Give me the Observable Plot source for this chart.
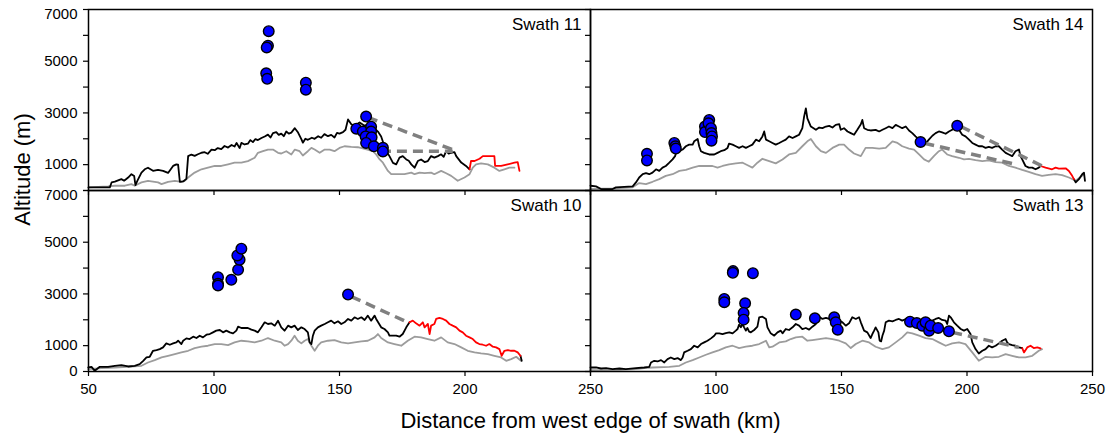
<!DOCTYPE html>
<html><head><meta charset="utf-8">
<script src="https://cdn.jsdelivr.net/npm/d3@7"></script>
<script src="https://cdn.jsdelivr.net/npm/@observablehq/plot@0.6"></script>
<style>body{margin:0;background:#fff}</style>
</head><body><div id="chart"></div>
<script>
// ---------- panels ----------
const panelNames = ["Swath 11", "Swath 14", "Swath 10", "Swath 13"];
const panelCols = ["L", "R", "L", "R"];
const panelRows = ["T", "T", "B", "B"];

// ---------- Swath 11 ----------
const swath11Max = [[50,120],[58.5,120],[59.2,310],[60.5,340],[63.1,440],[64.2,380],[65.8,500],[67.1,630],[68.2,560],[68.7,210],[69.5,380],[71.1,690],[72.4,820],[73.7,880],[75.7,760],[77.7,800],[79.7,760],[81.7,680],[83.7,950],[85.0,1010],[85.7,1000],[86.4,330],[87.7,350],[89.0,450],[89.7,1330],[91.0,1390],[92.3,1340],[93.6,1400],[95.0,1460],[96.3,1480],[97.5,1420],[99.0,1580],[100.3,1560],[101.5,1640],[102.9,1600],[104.2,1720],[105.6,1660],[107.0,1760],[108.2,1700],[109.0,1840],[110.2,1640],[110.9,1840],[112.2,1780],[113.5,1810],[114.5,1950],[115.5,1870],[116.5,1990],[117.5,1950],[118.9,2030],[120.2,2090],[121.5,2160],[122.5,2050],[123.5,2220],[124.8,2260],[125.8,2150],[126.8,2200],[127.8,2100],[128.8,2280],[129.8,2200],[130.8,2240],[132.2,2410],[133.5,2240],[134.8,1990],[135.4,1850],[136.4,2000],[137.4,1960],[139.0,2040],[140.1,2000],[141.5,2100],[142.7,2040],[144.0,2180],[145.4,2100],[146.7,2150],[148.0,2050],[149.0,2230],[150.0,2200],[151.4,2260],[152.4,2350],[153.4,2750],[154.7,2560],[156.0,2500],[158.0,2630],[160.0,2500],[161.3,2560],[162.6,2470],[164.0,2400],[165.3,2280],[166.6,2090],[167.9,1710],[168.8,1500],[169.9,1330],[171.3,1070],[172.6,1010],[173.9,1270],[175.2,1330],[176.6,1200],[177.6,1150],[178.6,1010],[179.9,880],[181.2,1140],[182.5,1200],[183.9,1100],[185.2,1140],[186.5,1330],[187.8,1270],[189.2,1330],[190.5,1400],[191.5,1300],[192.5,1520],[193.5,1430],[194.5,1460],[195.8,1480],[196.5,1330],[198.5,1080],[200.4,950],[201.8,820]];
const swath11East = [[201.8,820],[202.4,1140],[203.8,1140],[205.8,1230],[207.1,1330],[211.7,1330],[212.0,950],[214.4,950],[217.0,1010],[219.7,1075],[221.0,1100],[221.7,760]];
const swath11Mean = [[50,121],[57.8,159],[60.5,184],[64.5,184],[67.1,248],[68.4,184],[71.1,312],[73.7,375],[77.7,312],[79.1,248],[81.7,337],[84.4,375],[87.0,337],[88.3,375],[89.7,502],[92.3,693],[95.0,820],[97.6,884],[100.3,948],[102.9,948],[105.6,1011],[108.2,1075],[110.9,1075],[113.5,1138],[116.2,1266],[117.5,1456],[119.5,1520],[121.5,1584],[123.5,1584],[125.5,1456],[126.8,1431],[128.8,1520],[130.8,1393],[132.2,1584],[134.1,1520],[135.4,1355],[137.4,1520],[138.8,1647],[140.1,1584],[142.1,1456],[144.1,1584],[146.1,1584],[148.0,1520],[150.0,1647],[152.0,1711],[154.7,1685],[157.3,1673],[160.0,1609],[163.3,1520],[164.6,1393],[166.0,1202],[167.3,1075],[169.3,757],[170.6,630],[172.6,630],[175.9,630],[178.6,693],[179.9,630],[181.9,693],[183.9,668],[186.5,693],[187.8,630],[190.5,757],[192.5,668],[194.5,566],[197.1,375],[199.8,502],[201.8,630],[203.1,884],[204.4,1011],[206.4,1049],[209.1,1011],[211.7,884],[213.7,757],[215.7,820],[217.7,884],[219.7,884]];
const swath11Points = [[121.8,6160],[121.5,5600],[121.0,5530],[120.8,4530],[121.2,4320],[136.6,4170],[136.6,3900],[160.6,2860],[156.7,2390],[159.3,2280],[162.6,2470],[162.6,2280],[160.4,2090],[162.8,2060],[160.6,1840],[163.7,1710],[167.3,1650],[167.3,1510]];
const swath11Dash = [[161.3,2830,195.1,1580],[166.5,1520,195.1,1520]];

// ---------- Swath 14 ----------
const swath14Max = [[50,184],[52.2,159],[54.2,57],[58.8,57],[60.1,121],[66.8,159],[68.1,312],[69.4,502],[70.8,630],[72.1,668],[73.4,630],[74.7,693],[76.1,820],[77.4,757],[78.7,884],[80.0,948],[81.4,1075],[82.7,1202],[83.7,1329],[84.3,1520],[85.4,1520],[86.7,1584],[88.0,1711],[89.3,1775],[90.7,1775],[91.3,1902],[92.7,1991],[93.3,1711],[94.0,1520],[95.3,1456],[97.3,1393],[99.3,1393],[100.6,1456],[101.9,1520],[103.3,1558],[104.6,1647],[105.2,1813],[106.6,1775],[107.9,1711],[109.2,1647],[110.6,1711],[111.9,1647],[113.2,1711],[114.5,1775],[115.9,1966],[117.2,1902],[118.5,2093],[119.2,2283],[119.9,1966],[121.2,1902],[122.5,1838],[123.8,1775],[125.2,1838],[126.5,1902],[127.8,1966],[129.1,2093],[130.5,2029],[131.8,2093],[133.1,2156],[134.4,2410],[135.1,2856],[135.8,3173],[136.4,2792],[137.8,2474],[139.8,2347],[141.1,2436],[142.4,2410],[143.8,2474],[145.1,2500],[146.4,2436],[147.7,2538],[149.1,2563],[149.7,2347],[151.0,2410],[152.4,2283],[153.7,2220],[155.0,2156],[156.3,2347],[157.7,2563],[158.3,2728],[159.0,2410],[160.3,2347],[161.6,2321],[163.6,2347],[165.0,2283],[166.3,2347],[167.6,2410],[168.9,2474],[170.3,2410],[171.6,2538],[172.9,2474],[174.2,2410],[175.6,2474],[176.9,2321],[178.2,2220],[179.5,2093],[180.9,1966],[182.2,1838],[183.5,1813],[184.8,1966],[186.2,2118],[187.5,2220],[188.8,2283],[190.1,2245],[191.5,2194],[192.8,2283],[194.1,2347],[195.4,2474],[196.8,2347],[198.1,2156],[199.4,2093],[200.8,1966],[202.1,1838],[203.4,1775],[204.7,1711],[206.1,1711],[207.4,1647],[208.7,1685],[210.0,1647],[211.4,1711],[212.7,1711],[214.0,1584],[215.4,1456],[216.7,1393],[218.0,1329],[219.3,1520],[220.7,1584],[221.3,1329],[222.0,1202],[223.3,948],[224.6,884],[226.0,884],[227.3,820],[228.6,884],[229.3,948]];
const swath14East = [[229.3,948],[231.3,884],[233.9,820],[235.3,884],[236.6,846],[239.3,859],[240.6,757],[241.9,566],[242.6,439]];
const swath14Tail = [[242.6,439],[243.3,312],[244.6,439],[245.9,630],[246.6,693],[247.0,375]];
const swath14Mean = [[50,60],[60,80],[66.8,121],[69.4,286],[72.1,248],[74.7,337],[77.4,439],[80.0,566],[82.7,630],[85.4,757],[88.0,795],[90.7,884],[93.3,948],[96.0,948],[98.6,948],[100.6,884],[102.6,948],[105.2,1011],[107.9,1049],[110.6,1075],[113.2,948],[114.5,884],[116.5,1075],[118.5,1227],[121.2,1138],[123.8,1049],[126.5,1202],[129.1,1393],[131.8,1456],[134.4,1711],[136.4,1902],[137.8,1991],[139.8,1711],[141.8,1520],[143.8,1456],[146.4,1647],[149.1,1775],[151.0,1775],[153.0,1584],[155.0,1431],[157.7,1329],[159.6,1647],[162.3,1647],[165.0,1622],[167.6,1647],[170.3,1902],[172.3,1838],[174.2,1711],[176.9,1622],[178.9,1584],[180.9,1393],[182.9,1202],[184.8,1113],[186.8,1329],[188.8,1520],[190.1,1584],[192.1,1393],[194.1,1329],[196.8,1266],[198.8,1202],[200.8,1227],[203.4,1176],[206.1,1138],[208.7,1164],[211.4,1100],[214.0,1075],[216.7,948],[219.3,884],[222.0,795],[224.6,719],[227.3,630],[229.9,566],[232.6,604],[235.3,630],[237.9,592],[240.6,502],[243.3,375],[246.6,630]];
const swath14Points = [[72.5,1418],[72.5,1164],[83.4,1838],[83.8,1711],[84.0,1622],[95.6,2474],[95.6,2258],[97.3,2728],[97.0,2601],[98.0,2410],[98.2,2220],[98.4,2093],[98.2,1927],[181.5,1876],[196.1,2500]];
const swath14Dash = [[197.5,2474,230.0,948],[183.0,1830,219.3,1011]];

// ---------- Swath 10 ----------
const swath10Max = [[49.9,155],[51.2,181],[52.5,26],[54.5,181],[57.8,181],[60.5,220],[63.1,246],[65.8,194],[68.4,220],[70.4,285],[71.8,414],[73.1,543],[74.4,569],[75.7,802],[77.1,828],[78.4,867],[79.7,932],[81.0,1087],[82.4,1035],[83.7,1087],[85.0,1126],[85.7,1190],[87.0,1061],[87.7,1190],[89.0,1281],[90.3,1255],[91.7,1346],[93.0,1294],[94.3,1385],[95.6,1320],[97.0,1423],[98.3,1449],[99.6,1514],[100.9,1579],[102.3,1605],[103.6,1514],[104.9,1579],[106.3,1514],[107.6,1475],[108.9,1579],[109.6,1734],[110.9,1682],[112.2,1682],[113.5,1682],[114.9,1618],[116.2,1579],[117.5,1514],[118.9,1708],[120.2,1902],[121.5,1837],[122.8,1863],[124.2,1773],[125.5,1967],[126.8,1708],[128.1,1579],[129.5,1773],[130.8,1708],[132.1,1773],[133.4,1605],[134.8,1708],[136.1,1643],[137.4,1514],[138.1,1126],[138.8,1061],[139.4,1385],[140.1,1579],[141.4,1708],[142.7,1773],[144.1,1837],[145.4,1902],[146.7,1967],[148.0,1863],[149.4,1941],[150.7,1837],[152.0,1902],[153.4,2032],[154.7,1967],[156.0,2096],[157.3,2032],[158.7,2096],[160.0,1993],[161.3,2161],[162.6,1967],[164.0,2161],[164.6,2032],[166.6,1708],[167.9,1643],[169.3,1514],[169.9,1385],[171.3,1385],[172.6,1385],[173.9,1346],[175.2,1449],[176.6,1708],[177.9,1902]];
const swath10East = [[177.9,1902],[179.2,1967],[180.5,1863],[181.9,1773],[183.2,1902],[183.9,1708],[185.2,1837],[185.9,1449],[186.5,1773],[187.8,1837],[188.5,2032],[189.8,2070],[191.2,2032],[192.5,1967],[193.8,1837],[195.1,1773],[196.5,1708],[197.8,1579],[199.1,1514],[200.4,1385],[201.8,1320],[203.1,1255],[204.4,1126],[205.7,1061],[207.1,1035],[208.4,996],[209.7,1061],[211.1,958],[212.4,932],[213.7,867],[214.6,608],[215.7,802],[217.0,828],[218.4,802],[219.7,802],[221.0,738],[222.1,608]];
const swath10Tail = [[222.1,608],[222.6,414]];
const swath10Mean = [[49.9,91],[55.2,129],[60.5,155],[67.1,194],[71.1,220],[73.7,349],[76.4,440],[79.1,543],[81.7,608],[84.4,673],[87.0,738],[89.7,802],[92.3,906],[95.0,958],[97.6,996],[100.3,1061],[102.9,1061],[105.6,1022],[108.2,1126],[110.9,1190],[113.5,1165],[116.2,1126],[118.9,1190],[121.5,1294],[124.2,1190],[126.8,1126],[128.1,996],[129.5,1061],[130.8,1190],[132.1,1385],[133.4,1190],[134.8,1087],[136.1,1190],[137.4,1255],[138.8,996],[140.1,802],[141.4,996],[142.7,1126],[145.4,1190],[148.0,1216],[150.7,1126],[153.4,1087],[156.0,1126],[158.7,1165],[161.3,1190],[164.0,1320],[165.3,1449],[166.6,1294],[169.3,1126],[171.9,1061],[174.6,996],[177.2,1190],[179.9,1346],[182.5,1320],[185.2,1255],[187.8,1190],[190.5,1320],[193.1,1126],[195.8,1061],[198.5,932],[201.1,802],[203.8,738],[206.4,699],[209.1,673],[211.7,608],[214.4,543],[216.4,414],[218.4,479],[220.4,569],[222.3,414]];
const swath10Points = [[101.6,3649],[101.6,3390],[101.6,3326],[106.9,3546],[109.6,3934],[110.2,4322],[109.3,4490],[110.9,4749],[153.4,2976]];
const swath10Dash = [[154.7,2899,177.2,1902]];

// ---------- Swath 13 ----------
const swath13Max = [[50,155],[52.2,155],[54.2,116],[56.2,129],[58.8,91],[61.5,116],[64.1,91],[68.1,129],[71.4,155],[73.4,181],[74.1,349],[75.4,414],[76.7,388],[78.1,440],[79.4,349],[80.7,479],[82.0,543],[83.4,479],[84.7,518],[86.0,440],[86.7,543],[87.3,738],[88.7,802],[90.0,867],[91.3,996],[92.7,932],[94.0,1061],[95.3,1126],[96.6,1190],[98.0,1281],[99.3,1385],[100.0,1475],[101.3,1475],[102.6,1449],[103.9,1488],[105.3,1514],[106.6,1475],[107.9,1579],[108.6,1643],[109.2,1812],[109.9,1708],[110.6,1837],[111.2,1708],[111.9,1579],[112.5,1682],[113.2,1540],[113.9,1514],[115.2,1605],[116.5,1734],[117.2,2096],[118.5,2122],[119.9,2032],[120.5,1708],[121.8,1475],[123.2,1385],[124.5,1514],[125.8,1579],[126.5,1475],[127.8,1643],[129.1,1605],[130.5,1708],[131.8,1837],[133.1,1773],[134.4,1643],[135.8,1682],[137.1,1618],[138.4,1734],[139.8,1837],[141.1,2122],[142.4,2032],[143.8,2070],[145.1,2032],[146.4,2096],[147.7,2122],[149.1,1967],[150.4,1902],[151.7,1773],[153.0,1863],[154.3,2096],[155.7,2032],[157.0,2096],[157.7,1902],[159.0,1579],[160.3,1514],[161.6,1294],[162.3,1449],[163.0,1579],[163.6,1708],[164.7,1514],[165.2,1190],[165.8,1165],[166.3,1385],[167.0,1579],[167.6,1902],[168.9,1967],[170.3,1941],[171.6,1993],[172.9,2032],[174.2,1967],[175.6,2032],[176.9,2057],[178.2,2032],[179.5,1967],[180.9,1941],[182.2,1993],[183.5,2032],[184.8,1993],[186.2,1967],[187.5,2032],[188.8,2070],[190.1,1993],[191.5,1967],[192.1,1837],[192.8,2161],[193.5,2096],[194.8,1902],[196.1,1773],[197.5,1643],[198.8,1579],[200.1,1643],[201.4,1449],[202.1,1126],[203.4,867],[204.7,699],[206.1,802],[207.4,867],[208.7,996],[210.0,932],[211.4,996],[212.7,1087],[214.0,1190],[215.4,1255],[216.0,1126],[216.7,1061],[218.0,1022],[219.3,996],[220.7,932],[222.0,906]];
const swath13East = [[222.0,906],[222.7,738],[224.0,932],[225.3,996],[226.6,906],[228.0,932],[229.3,893]];
const swath13Mean = [[50,52],[61.5,65],[68.1,91],[71.4,129],[74.7,155],[81.4,181],[85.4,220],[88.0,349],[90.7,440],[93.3,543],[96.0,647],[98.6,738],[101.3,828],[103.9,932],[106.6,996],[109.2,906],[111.9,958],[114.5,996],[117.2,1061],[119.9,1190],[121.2,932],[122.5,958],[125.2,1126],[127.8,1165],[129.8,1255],[131.8,1320],[134.4,1346],[136.4,1190],[138.4,1216],[141.1,1255],[143.8,1294],[146.4,1255],[149.1,1190],[151.7,1087],[153.7,906],[155.7,1061],[158.3,1190],[161.0,1126],[163.6,958],[166.3,867],[168.9,932],[171.6,1126],[174.2,1320],[176.2,1514],[178.2,1475],[180.9,1385],[183.5,1294],[186.2,1255],[188.8,1126],[191.5,996],[194.1,1087],[196.8,1126],[199.4,1061],[202.1,738],[204.7,414],[207.4,569],[210.0,543],[212.7,569],[215.4,673],[218.0,608],[220.7,543],[223.3,543],[226.0,608],[228.6,802],[229.9,867]];
const swath13Points = [[106.8,3882],[106.7,3817],[114.7,3804],[103.3,2808],[103.3,2679],[111.6,2640],[111.0,2265],[111.0,2006],[131.8,2200],[139.4,2057],[147.1,2096],[147.7,1902],[148.5,1618],[177.3,1928],[180.0,1876],[182.2,1773],[183.5,1902],[184.9,1579],[185.5,1773],[188.5,1682],[192.8,1553]];
const swath13Dash = [[194.1,1514,220.7,932]];

// ---------- axes ----------
const xTicks = [50, 100, 150, 200, 250];
const yTicks = [0, 1000, 2000, 3000, 4000, 5000, 6000, 7000];
const yLabelsTop = [1000, 3000, 5000];
const yLabelsBottom = [0, 1000, 3000, 5000];
const yLabelTopmost = 7000;
const xLabelsLeft = [50, 100, 150, 200, 250];
const xLabelsRight = [100, 150, 200, 250];
const yTitle = "Altitude (m)";
const xTitle = "Distance from west edge of swath (km)";

// ---------- build tables ----------
function panelOf(name) {
  const i = panelNames.indexOf(name);
  return {name, col: panelCols[i], row: panelRows[i]};
}
function rows(name, part, arr) {
  const p = panelOf(name);
  return arr.map(([x, y]) => ({...p, part: name + "-" + part, x, y}));
}
function segs(name, arr) {
  const p = panelOf(name);
  return arr.map(([x1, y1, x2, y2]) => ({...p, x1, y1, x2, y2}));
}
const meanRows = [
  ...rows("Swath 11", "mean", swath11Mean), ...rows("Swath 14", "mean", swath14Mean),
  ...rows("Swath 10", "mean", swath10Mean), ...rows("Swath 13", "mean", swath13Mean)];
const maxRows = [
  ...rows("Swath 11", "max", swath11Max), ...rows("Swath 14", "max", swath14Max), ...rows("Swath 14", "tail", swath14Tail),
  ...rows("Swath 10", "max", swath10Max), ...rows("Swath 10", "tail", swath10Tail), ...rows("Swath 13", "max", swath13Max)];
const eastRows = [
  ...rows("Swath 11", "east", swath11East), ...rows("Swath 14", "east", swath14East),
  ...rows("Swath 10", "east", swath10East), ...rows("Swath 13", "east", swath13East)];
const pointRows = [
  ...rows("Swath 11", "pt", swath11Points), ...rows("Swath 14", "pt", swath14Points),
  ...rows("Swath 10", "pt", swath10Points), ...rows("Swath 13", "pt", swath13Points)];
const dashRows = [
  ...segs("Swath 11", swath11Dash), ...segs("Swath 14", swath14Dash),
  ...segs("Swath 10", swath10Dash), ...segs("Swath 13", swath13Dash)];
const panelRowsData = panelNames.map(panelOf);

const yLabelData = [
  ...yLabelsTop.map(v => ({col: "L", row: "T", v})),
  ...yLabelsBottom.map(v => ({col: "L", row: "B", v}))];
const yTopLabelData = ["T", "B"].map(row => ({col: "L", row, v: yLabelTopmost}));
const xLabelData = [
  ...xLabelsLeft.map(v => ({col: "L", row: "B", v})),
  ...xLabelsRight.map(v => ({col: "R", row: "B", v}))];

const font = "'Liberation Sans', Arial, Helvetica, sans-serif";

const chart = Plot.plot({
  width: 1119,
  height: 436,
  marginLeft: 87,
  marginRight: 27,
  marginTop: 8,
  marginBottom: 65,
  facet: {marginTop: 0, marginRight: 0, marginBottom: 0, marginLeft: 0},
  fx: {domain: ["L", "R"], padding: 0, axis: null},
  fy: {domain: ["T", "B"], padding: 0, axis: null},
  x: {domain: [50, 250], axis: null},
  y: {domain: [0, 7000], axis: null},
  style: {fontFamily: font, fontSize: "15px", color: "black", background: "white"},
  marks: [
    Plot.line(meanRows, {x: "x", y: "y", z: "part", fx: "col", fy: "row", stroke: "#9c9c9c", strokeWidth: 1.8}),
    Plot.line(maxRows, {x: "x", y: "y", z: "part", fx: "col", fy: "row", stroke: "black", strokeWidth: 1.8}),
    Plot.line(eastRows, {x: "x", y: "y", z: "part", fx: "col", fy: "row", stroke: "#ff0000", strokeWidth: 1.8}),
    Plot.link(dashRows, {x1: "x1", y1: "y1", x2: "x2", y2: "y2", fx: "col", fy: "row", stroke: "#808080", strokeWidth: 3.5, strokeDasharray: "10,6"}),
    Plot.dot(pointRows, {x: "x", y: "y", fx: "col", fy: "row", r: 5.3, fill: "#0000ff", stroke: "black", strokeWidth: 1.4}),
    Plot.frame({stroke: "black", strokeWidth: 1.5}),
    Plot.axisX({ticks: xTicks, tickSize: 5, fill: "none", label: null, facetAnchor: null, strokeWidth: 1.2}),
    Plot.axisY({ticks: yTicks, tickSize: 5, fill: "none", label: null, facetAnchor: null, strokeWidth: 1.2}),
    Plot.text(panelRowsData, {fx: "col", fy: "row", text: "name", frameAnchor: "top-right", dx: -9, dy: 15, textAnchor: "end", lineAnchor: "middle", fontSize: 17}),
    Plot.text(yLabelData, {fx: "col", fy: "row", y: "v", text: d => String(d.v), frameAnchor: "left", dx: -11, textAnchor: "end", lineAnchor: "middle", fontSize: 15}),
    Plot.text(yTopLabelData, {fx: "col", fy: "row", y: "v", text: d => String(d.v), frameAnchor: "left", dx: -11, dy: 5, textAnchor: "end", lineAnchor: "middle", fontSize: 15}),
    Plot.text(xLabelData, {fx: "col", fy: "row", x: "v", text: d => String(d.v), frameAnchor: "bottom", dy: 18, textAnchor: "middle", lineAnchor: "middle", fontSize: 15}),
    Plot.text([yTitle], {facet: "super", frameAnchor: "left", dx: -66, dy: -21, rotate: -90, textAnchor: "middle", lineAnchor: "middle", fontSize: 22}),
    Plot.text([xTitle], {facet: "super", frameAnchor: "bottom", dy: 49, textAnchor: "middle", lineAnchor: "middle", fontSize: 22})
  ]
});
document.getElementById("chart").appendChild(chart);
</script>
</body></html>
